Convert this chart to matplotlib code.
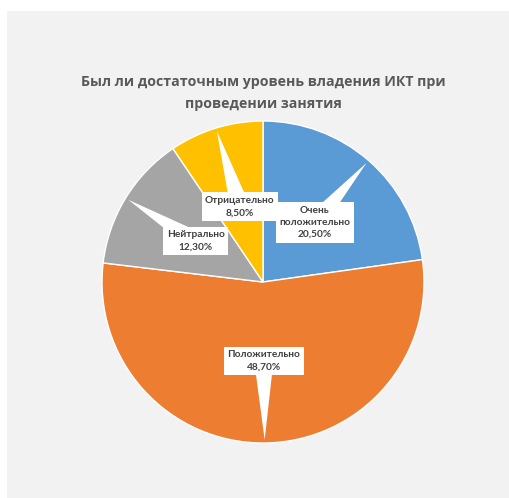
import matplotlib.pyplot as plt
from matplotlib.patches import Rectangle, Polygon
import numpy as np

categories = ['Очень\nположительно', 'Положительно', 'Нейтрально', 'Отрицательно']
shares = [20.5, 48.7, 12.3, 8.5]
colors = ['#5B9BD5', '#ED7D31', '#A5A5A5', '#FFC000']
title = 'Был ли достаточным уровень владения ИКТ при\nпроведении занятия'

W, H = 510, 498
fig = plt.figure(figsize=(W / 100, H / 100), dpi=100, facecolor='white')
# light gray chart area
fig.patches.append(Rectangle((7 / W, 0), 1 - 7 / W, 1 - 11 / H, transform=fig.transFigure,
                             facecolor='#F2F2F2', edgecolor='none', zorder=0))

cx, cy, r = 263, 282, 161
ax = fig.add_axes([(cx - r) / W, (H - cy - r) / H, 2 * r / W, 2 * r / H])
ax.set_zorder(2)
ax.set_facecolor('none')

wedges, _ = ax.pie(shares, colors=colors, startangle=90, counterclock=False, radius=1,
                   wedgeprops=dict(edgecolor='white', linewidth=1))
ax.set_xlim(-1, 1)
ax.set_ylim(-1, 1)
ax.axis('off')

# data callouts: white box on the slice with a pointer to the rim
for w, name, val in zip(wedges, categories, shares):
    ang = np.deg2rad((w.theta1 + w.theta2) / 2)
    d = np.array([np.cos(ang), np.sin(ang)])
    box = d * 0.49
    tip = d * 0.98
    perp = np.array([-d[1], d[0]]) * 0.06
    ax.add_patch(Polygon([box + perp, tip, box - perp], closed=True,
                         facecolor='white', edgecolor='none', zorder=3))
    label = f'{name}\n{val:.2f}%'.replace('.', ',')
    ax.text(box[0], box[1], label, ha='center', va='center', fontsize=7.3,
            color='#404040', fontweight='bold', family='Lato', linespacing=1.45,
            zorder=4, bbox=dict(boxstyle='square,pad=0.35', facecolor='white', edgecolor='none'))

fig.text(cx / W, 1 - 93 / H, title, ha='center', va='center', fontsize=10.2,
         fontweight='bold', color='#595959', family='Open Sans', linespacing=1.7)

fig.savefig('out.png', dpi=100, facecolor='white')
